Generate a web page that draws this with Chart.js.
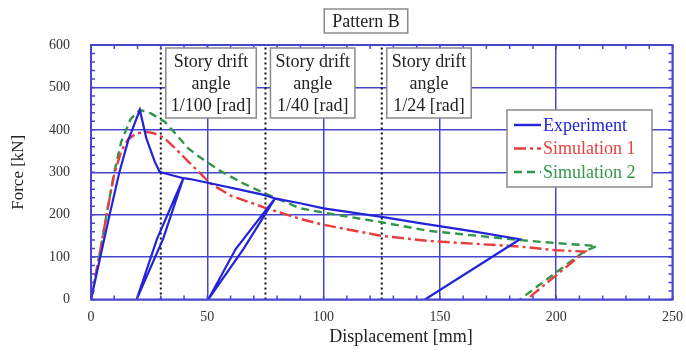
<!DOCTYPE html>
<html>
<head>
<meta charset="utf-8">
<script src="https://cdn.jsdelivr.net/npm/chart.js@4.4.1/dist/chart.umd.min.js"></script>
<style>
  html, body { margin: 0; padding: 0; background: #ffffff; }
  #wrap { width: 686px; height: 356px; position: relative; }
</style>
</head>
<body>
<div id="wrap"><canvas id="c"></canvas></div>
<script>
// ---- data (displacement mm, force kN) ----
const expDisp  = [0, 4, 8, 12.2, 16, 21, 23.8, 27.4, 29.5, 34, 39.7, 31, 19.6, 28.4, 39.7, 42.6, 51.2, 65, 74.8, 79.1, 65.5, 50.4, 62.2, 79.1, 89.9, 100, 125, 141.4, 165, 184.4, 143.6];
const expForce = [0, 100, 200, 300, 375, 447, 380, 325, 301, 294, 286, 143, 0, 143, 286, 284, 274, 258, 246, 238, 119, 0, 119, 238, 227, 215, 195, 180, 160, 142, 0];

const sim1Disp  = [0, 4, 7, 10, 13, 16, 19, 23, 27, 31.7, 37, 42.6, 51.2, 60, 75.5, 90, 100, 125, 145, 184, 200, 212.4, 187.3];
const sim1Force = [0, 115, 210, 295, 350, 378, 390, 396, 392, 380, 352, 321, 274, 245, 215, 190, 176, 150, 138, 125, 116, 113, 0];

const sim2Disp  = [0, 4, 7, 10, 13, 17, 21, 26, 31.7, 36.5, 41.7, 45.4, 55, 65, 74.8, 89.9, 100, 125, 145, 184.4, 200, 217.4, 212, 184.4];
const sim2Force = [0, 115, 210, 300, 372, 425, 447, 438, 419, 390, 357, 341, 305, 275, 250, 215, 205, 182, 162, 140, 133, 126, 113, 0];

const seriesNames = ['Experiment', 'Simulation 1', 'Simulation 2'];
const driftDisp   = [30, 75, 125];
const driftLabels = ['1/100 [rad]', '1/40 [rad]', '1/24 [rad]'];
const chartTitle  = 'Pattern B';
const xTitle = 'Displacement [mm]';
const yTitle = 'Force [kN]';

const pts = (xs, ys) => xs.map((x, i) => ({x: x, y: ys[i]}));

const BLUE = 'rgb(35,35,215)';
const RED = 'rgb(232,62,62)';
const GREEN = 'rgb(48,150,72)';
const GRID = 'rgb(70,70,205)';
const SERIF = '"Liberation Serif", "DejaVu Serif", serif';

const datasets = [];
driftDisp.forEach((d) => {
  datasets.push({
    label: '_drift', data: [{x: d, y: 0}, {x: d, y: 600}],
    borderColor: '#111', borderWidth: 2, borderDash: [2, 3],
    showLine: true, pointRadius: 0, fill: false, order: 5
  });
});
datasets.push({label: seriesNames[2], data: pts(sim2Disp, sim2Force), borderColor: GREEN, borderWidth: 2.4, borderDash: [8, 5], showLine: true, pointRadius: 0, fill: false, order: 3});
datasets.push({label: seriesNames[1], data: pts(sim1Disp, sim1Force), borderColor: RED, borderWidth: 2.4, borderDash: [12, 4, 3, 4], showLine: true, pointRadius: 0, fill: false, order: 2});
datasets.push({label: seriesNames[0], data: pts(expDisp, expForce), borderColor: BLUE, borderWidth: 2.2, showLine: true, pointRadius: 0, fill: false, order: 1});

const decor = {
  id: 'decor',
  afterDatasetsDraw(chart) {
    const ctx = chart.ctx, a = chart.chartArea;
    const xs = chart.scales.x, ys = chart.scales.y;
    ctx.save();
    // frame
    ctx.strokeStyle = GRID; ctx.lineWidth = 2;
    ctx.strokeRect(a.left, a.top, a.right - a.left, a.bottom - a.top);
    // minor ticks, inward
    ctx.lineWidth = 1.5;
    ctx.beginPath();
    for (let v = 0; v <= 250; v += 10) {
      const px = xs.getPixelForValue(v);
      ctx.moveTo(px, a.bottom); ctx.lineTo(px, a.bottom - 4);
      ctx.moveTo(px, a.top); ctx.lineTo(px, a.top + 4);
    }
    for (let v = 0; v <= 600; v += 20) {
      const py = ys.getPixelForValue(v);
      ctx.moveTo(a.left, py); ctx.lineTo(a.left + 4, py);
      ctx.moveTo(a.right, py); ctx.lineTo(a.right - 4, py);
    }
    ctx.stroke();

    // drift annotation boxes
    ctx.font = '18px ' + SERIF;
    ctx.textAlign = 'center'; ctx.textBaseline = 'middle';
    driftDisp.forEach((d, i) => {
      const lines = ['Story drift', 'angle', driftLabels[i]];
      const w = Math.max(...lines.map(l => ctx.measureText(l).width)) + 10;
      const left = xs.getPixelForValue(d) + 5;
      const top = a.top + 3, h = 70;
      ctx.fillStyle = '#fff';
      ctx.fillRect(left, top, w, h);
      ctx.strokeStyle = '#8a8a8a'; ctx.lineWidth = 1.5;
      ctx.strokeRect(left, top, w, h);
      ctx.fillStyle = '#222';
      lines.forEach((l, k) => ctx.fillText(l, left + w / 2, top + 14 + k * 22));
    });

    // legend
    const lx = 507, ly = 110, lw = 145, lh = 77;
    ctx.fillStyle = '#fff'; ctx.fillRect(lx, ly, lw, lh);
    ctx.strokeStyle = '#8a8a8a'; ctx.lineWidth = 1.5; ctx.strokeRect(lx, ly, lw, lh);
    ctx.textAlign = 'left';
    seriesNames.forEach((name, k) => {
      const ds = chart.data.datasets.find(s => s.label === name);
      const y = ly + 15 + k * 23.5;
      ctx.strokeStyle = ds.borderColor; ctx.lineWidth = 2.4;
      ctx.setLineDash(ds.borderDash || []);
      ctx.beginPath(); ctx.moveTo(lx + 7, y); ctx.lineTo(lx + 34, y); ctx.stroke();
      ctx.setLineDash([]);
      ctx.fillStyle = ds.borderColor;
      ctx.font = '18px ' + SERIF;
      ctx.fillText(name, lx + 36, y + 1);
    });

    // title box
    ctx.font = '18px ' + SERIF;
    ctx.textAlign = 'center';
    const tw = ctx.measureText(chartTitle).width + 16;
    const tcx = 366, tcy = 21;
    ctx.fillStyle = '#fff'; ctx.fillRect(tcx - tw / 2, tcy - 12, tw, 24);
    ctx.strokeStyle = '#8a8a8a'; ctx.lineWidth = 1.5; ctx.strokeRect(tcx - tw / 2, tcy - 12, tw, 24);
    ctx.fillStyle = '#222'; ctx.fillText(chartTitle, tcx, tcy + 1);

    // x-axis title
    ctx.fillStyle = '#222';
    ctx.fillText(xTitle, 401, 337);
    ctx.restore();
  }
};

new Chart(document.getElementById('c'), {
  type: 'scatter',
  data: { datasets: datasets },
  options: {
    responsive: true, maintainAspectRatio: false, animation: false,
    layout: { padding: { top: 45, right: 13.5, left: 0, bottom: 0 } },
    plugins: { legend: { display: false }, tooltip: { enabled: false }, title: { display: false } },
    elements: { line: { tension: 0 } },
    scales: {
      x: {
        type: 'linear', min: 0, max: 250,
        ticks: { stepSize: 50, color: '#333', padding: 9, font: { family: SERIF, size: 14 } },
        grid: { color: GRID, lineWidth: 1.5, drawTicks: false },
        border: { display: false },
        title: { display: false },
        afterFit(s) { s.height = 56.5; s.paddingLeft = 0; s.paddingRight = 0; }
      },
      y: {
        type: 'linear', min: 0, max: 600,
        ticks: { stepSize: 100, color: '#333', padding: 21, font: { family: SERIF, size: 14 } },
        grid: { color: GRID, lineWidth: 1.5, drawTicks: false },
        border: { display: false },
        title: { display: true, text: yTitle, color: '#222', font: { family: SERIF, size: 17 }, padding: { top: 8, bottom: 0 } },
        afterFit(s) { s.width = 91; s.paddingTop = 0; s.paddingBottom = 0; }
      }
    }
  },
  plugins: [decor]
});
</script>
</body>
</html>
